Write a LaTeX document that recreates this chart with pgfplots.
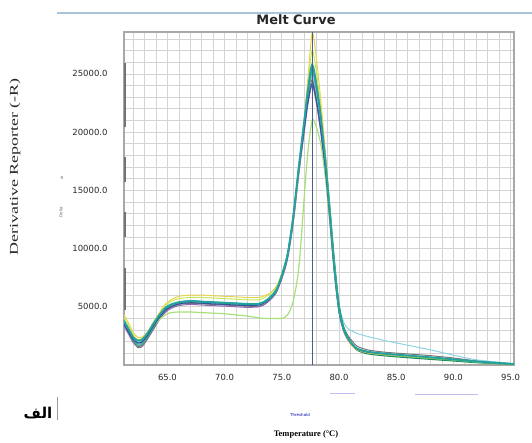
\documentclass[border=0pt]{standalone}
\usepackage{pgfplots}
\pgfplotsset{compat=1.18}
\usepackage{pgfplotstable}
\usepackage{fontspec}
\usepackage{graphicx}
\setmainfont{Liberation Serif}
\newfontfamily\ticksfont{DejaVu Sans}
\newfontfamily\arabicfont[Script=Arabic]{DejaVu Sans}
\TeXXeTstate=1

\definecolor{gridc}{HTML}{D4D4D4}
\definecolor{framec}{HTML}{A8A8A8}
\definecolor{cBlue}{HTML}{34519E}
\definecolor{cTeal}{HTML}{22A3A0}
\definecolor{cYellow}{HTML}{E6D44E}
\definecolor{cGreen}{HTML}{2EB872}
\definecolor{cPurple}{HTML}{8E6BB0}
\definecolor{cGray}{HTML}{767676}
\definecolor{cCyan}{HTML}{8CD4E6}
\definecolor{cLGreen}{HTML}{A8E07A}
\definecolor{cDGreen}{HTML}{1F8A5B}
\definecolor{cLime}{HTML}{C6E85A}
\definecolor{cLBlue}{HTML}{5DA5DA}
\definecolor{cPink}{HTML}{D4A5C0}
\definecolor{vline}{HTML}{4D5F86}
\definecolor{topline}{HTML}{A9C4DC}

\pgfplotstableread{
T b t y g p gr c lg dg li lb pk
61.2 3500 3800 4300 3600 3400 3500 3700 3800 3600 4100 3700 3300
61.6 2800 3100 3600 2900 2700 2800 3000 3100 2900 3400 3000 2600
62.0 2200 2400 2800 2100 2000 2000 2300 2400 2200 2600 2200 1900
62.4 1900 2100 2400 1700 1600 1500 2000 2000 1900 2200 1800 1700
62.8 2000 2200 2400 1800 1700 1600 2100 2100 2000 2300 1900 1800
63.3 2600 2800 2900 2500 2400 2300 2700 2700 2600 2900 2500 2400
63.8 3400 3600 3700 3300 3200 3100 3500 3400 3400 3700 3300 3200
64.3 4100 4300 4500 4100 3900 3900 4200 3900 4200 4400 4100 4000
64.8 4700 4900 5200 4800 4500 4600 4800 4300 4850 5100 4750 4650
65.3 5000 5200 5600 5150 4850 4950 5100 4500 5150 5450 5100 5000
66 5250 5400 5900 5400 5100 5200 5300 4550 5350 5700 5350 5250
67 5350 5500 6000 5500 5200 5300 5400 4550 5450 5800 5450 5350
68 5300 5450 6000 5450 5150 5250 5350 4500 5400 5800 5400 5300
69 5250 5400 5950 5400 5100 5200 5300 4450 5350 5750 5350 5250
70 5200 5350 5900 5350 5050 5150 5250 4400 5300 5700 5300 5200
71 5150 5300 5850 5300 5000 5100 5200 4300 5250 5650 5250 5150
72 5100 5250 5800 5250 4950 5050 5150 4200 5200 5600 5200 5100
73 5150 5250 5800 5300 5000 5050 5150 4050 5200 5600 5250 5150
73.5 5350 5450 5950 5500 5200 5250 5350 4000 5400 5800 5450 5350
74 5700 5800 6200 5900 5600 5650 5700 4000 5750 6150 5800 5750
74.5 6300 6400 6700 6500 6200 6200 6300 4000 6350 6700 6400 6300
75 7600 7700 7800 7800 7400 7500 7600 4000 7700 7900 7700 7600
75.5 9300 9500 9400 9600 9100 9300 9400 4300 9500 9600 9400 9300
76 12500 12800 12400 12900 12200 12400 12700 5500 12700 12700 12600 12400
76.5 16800 17200 16800 17200 16500 16700 17000 8500 17000 17000 16900 16700
77 20600 21300 21500 21000 20300 20700 21000 15000 21100 21500 20900 20700
77.3 22700 23800 24800 23300 22500 22900 23300 18500 23500 24300 23200 23000
77.65 24200 25800 28500 25300 24000 24500 25000 21000 25600 27000 25200 24800
78 22800 24200 26500 24000 22600 23000 23600 20500 24300 25300 23700 23300
78.4 20200 21300 22800 21400 20000 20500 21000 19000 21600 22200 21000 20700
78.8 16800 17600 18200 17900 16500 17000 17500 16200 18000 18000 17400 17100
79.2 12500 13000 13300 13500 12200 12700 13100 12300 13600 13300 13000 12800
79.6 8000 8300 8400 8800 7800 8200 8600 8000 9000 8500 8400 8200
80 4600 4800 4800 5100 4500 4900 5200 4700 5300 4900 4900 4700
80.4 3000 3100 3000 3200 2900 3300 3700 3000 3300 3100 3100 3000
80.8 2200 2300 2100 2300 2100 2500 3100 2200 2300 2200 2200 2150
81.2 1700 1750 1600 1700 1600 2000 2900 1700 1650 1650 1700 1650
81.6 1350 1400 1300 1350 1300 1600 2700 1300 1250 1300 1350 1300
82.5 1100 1150 1050 1050 1050 1300 2450 1050 950 1050 1100 1050
84 950 980 900 880 900 1100 2100 850 780 880 930 880
86 800 820 750 720 760 950 1700 680 620 720 780 730
88 650 660 600 560 620 800 1300 520 480 560 630 580
90 480 490 450 400 460 600 850 380 340 410 470 420
92 300 310 280 230 290 360 450 220 200 250 290 260
95.3 80 90 70 60 80 100 100 60 50 70 80 70
}\melt

\begin{document}
\begin{tikzpicture}
\path[use as bounding box] (0,0) rectangle (532bp,443bp);
\begin{axis}[
  at={(124bp,78bp)}, anchor=south west,
  width=390bp, height=333bp, scale only axis,
  xmin=61.2, xmax=95.3, ymin=0, ymax=28600,
  xtick={65,70,...,95}, ytick={5000,10000,...,25000},
  minor xtick={62,63,...,95}, minor ytick={1000,2000,...,28000},
  grid=both,
  major grid style={draw=gridc, line width=0.7bp},
  minor grid style={draw=gridc, line width=0.7bp},
  major tick length=0pt, minor tick length=0pt,
  axis line style={draw=framec, line width=1.2bp},
  scaled ticks=false,
  /pgf/number format/assume math mode=true,
  /pgf/number format/fixed, /pgf/number format/fixed zerofill,
  /pgf/number format/precision=1, /pgf/number format/1000 sep={},
  xticklabel style={font=\ticksfont\fontsize{8.5}{10}\selectfont, text=black!85, yshift=-6bp},
  yticklabel style={font=\ticksfont\fontsize{8.5}{10}\selectfont, text=black!85, xshift=-13bp},
  every axis plot/.append style={smooth, tension=0.5, no markers, line width=1bp},
]
\addplot[cPink] table[x=T,y=pk]{\melt};
\addplot[cGray] table[x=T,y=gr]{\melt};
\addplot[cPurple] table[x=T,y=p]{\melt};
\addplot[cLGreen, line width=1.2bp] table[x=T,y=lg]{\melt};
\addplot[cLime] table[x=T,y=li]{\melt};
\addplot[cCyan] table[x=T,y=c]{\melt};
\addplot[cLBlue] table[x=T,y=lb]{\melt};
\addplot[cDGreen] table[x=T,y=dg]{\melt};
\addplot[cGreen] table[x=T,y=g]{\melt};
\addplot[cYellow] table[x=T,y=y]{\melt};
\addplot[cBlue] table[x=T,y=b]{\melt};
\addplot[cTeal, line width=1.8bp] table[x=T,y=t]{\melt};
\addplot[vline, line width=0.8bp, sharp plot] coordinates {(77.65,0) (77.65,28600)};
\end{axis}
% darker segments on the left axis
\foreach \a/\b in {316/380, 261/286, 206/231, 133/175}
  \draw[color=black!55, line width=1.6bp] (125bp,\a bp) -- (125bp,\b bp);
% top line
\draw[color=topline, line width=1.5bp] (57bp,430bp) -- (532bp,430bp);
% title
\node[font=\ticksfont\bfseries\fontsize{13}{15}\selectfont, text=black!85] at (296bp,423bp) {Melt Curve};
% y label
\node[rotate=90, font=\fontsize{12}{14}\selectfont, text=black!85] at (15bp,276bp) {\scalebox{1.5}[1]{Derivative Reporter (-R)}};
\node[rotate=90, font=\ticksfont\fontsize{4}{5}\selectfont, text=black!60] at (61bp,231bp) {Delta};
\node[font=\ticksfont\fontsize{4}{5}\selectfont, text=black!60] at (62bp,265bp) {R};
% x label
\node[font=\bfseries\fontsize{8.5}{10}\selectfont] at (306bp,9bp) {Temperature (°C)};
\node[font=\ticksfont\fontsize{4}{5}\selectfont, text=blue!70!black] at (300bp,28bp) {Threshold};
% gray segments under labels
\draw[color=black!30!blue!25, line width=1bp] (330bp,49bp) -- (355bp,49bp);
\draw[color=black!30!blue!25, line width=0.8bp] (415bp,49bp) -- (478bp,49bp);
% arabic label
\node[font=\arabicfont\bfseries\fontsize{15}{18}\selectfont] at (38bp,30bp) {\beginR الف\endR};
\draw[color=black!40, line width=1bp] (57bp,23bp) -- (57bp,46bp);
\end{tikzpicture}
\end{document}
